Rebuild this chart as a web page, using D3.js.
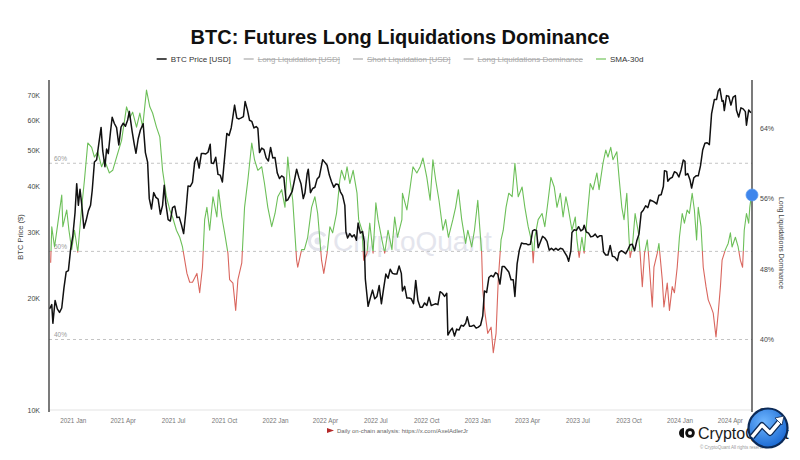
<!DOCTYPE html>
<html><head><meta charset="utf-8">
<script src="https://cdn.jsdelivr.net/npm/d3@7"></script>
<style>body{margin:0;background:#fff} svg{display:block;font-family:"Liberation Sans",Arial,Helvetica,sans-serif}</style>
</head><body><svg id="c" width="800" height="460"></svg>
<script>
const titleText = "BTC: Futures Long Liquidations Dominance";
const legendItems = [
  {name:"BTC Price [USD]", color:"#111", on:true},
  {name:"Long Liquidation [USD]", color:"#bbb", on:false},
  {name:"Short Liquidation [USD]", color:"#bbb", on:false},
  {name:"Long Liquidations Dominance", color:"#bbb", on:false},
  {name:"SMA-30d", color:"#8fd07d", on:true}
];
const priceTicks = [10000,20000,30000,40000,50000,60000,70000];
const domTicks = [32,40,48,56,64];
const refLevels = [40,50,60];
const xStart = "2020-11-19", xEnd = "2024-05-11";

const priceSeries = [
["2020-11-20",18700],["2020-11-24",19200],["2020-11-26",17100],["2020-11-30",19700],["2020-12-04",18700],["2020-12-08",18300],["2020-12-12",18800],["2020-12-16",21300],["2020-12-20",23500],["2020-12-24",23700],["2020-12-28",27000],
["2021-01-01",29400],["2021-01-05",33900],["2021-01-08",40600],["2021-01-11",35500],["2021-01-14",39200],["2021-01-17",35800],["2021-01-21",30800],["2021-01-25",32300],["2021-01-29",34300],["2021-02-02",35500],["2021-02-05",38900],["2021-02-09",46400],["2021-02-13",47100],["2021-02-17",52100],["2021-02-21",57500],["2021-02-24",49700],["2021-02-28",45100],["2021-03-03",50300],["2021-03-06",48900],["2021-03-10",55900],["2021-03-13",61200],["2021-03-17",58900],["2021-03-21",57400],["2021-03-25",51600],["2021-03-29",57600],["2021-04-02",59000],["2021-04-06",57900],["2021-04-10",60200],["2021-04-13",63500],["2021-04-18",56200],["2021-04-22",51700],["2021-04-25",49000],["2021-04-29",53600],["2021-05-03",56600],["2021-05-08",58800],["2021-05-12",49200],["2021-05-16",46400],["2021-05-19",37000],["2021-05-23",34700],["2021-05-27",38400],["2021-05-31",37300],["2021-06-04",36900],["2021-06-08",33600],["2021-06-12",35500],["2021-06-15",40200],["2021-06-18",35800],["2021-06-22",32500],["2021-06-26",32200],["2021-06-30",35000],["2021-07-04",35300],["2021-07-08",32900],["2021-07-12",33000],["2021-07-16",31500],["2021-07-20",29800],["2021-07-24",34000],["2021-07-28",40000],["2021-08-01",39900],["2021-08-05",40900],["2021-08-09",46400],["2021-08-13",47800],["2021-08-17",44700],["2021-08-21",48900],["2021-08-25",48900],["2021-08-29",48800],["2021-09-02",49300],["2021-09-06",51800],["2021-09-08",46100],["2021-09-12",46000],["2021-09-16",47800],["2021-09-20",43000],["2021-09-24",42800],["2021-09-28",41000],["2021-10-02",47700],["2021-10-06",55400],["2021-10-10",54700],["2021-10-14",57400],["2021-10-17",61500],["2021-10-20",66000],["2021-10-24",60900],["2021-10-28",60600],["2021-11-01",61000],["2021-11-05",61500],["2021-11-08",67500],["2021-11-12",64200],["2021-11-16",60100],["2021-11-20",59700],["2021-11-24",57300],["2021-11-28",57800],["2021-12-01",57200],["2021-12-04",49200],["2021-12-08",50600],["2021-12-12",50100],["2021-12-16",47600],["2021-12-20",46700],["2021-12-24",50800],["2021-12-28",47600],
["2022-01-01",47700],["2022-01-05",43400],["2022-01-09",41900],["2022-01-13",42600],["2022-01-17",42200],["2022-01-21",36500],["2022-01-24",36700],["2022-01-28",37700],["2022-02-01",38700],["2022-02-05",41400],["2022-02-09",44400],["2022-02-13",42200],["2022-02-17",40500],["2022-02-21",37000],["2022-02-24",38300],["2022-02-28",43200],["2022-03-02",44400],["2022-03-06",38400],["2022-03-10",39400],["2022-03-14",39700],["2022-03-18",41800],["2022-03-22",42400],["2022-03-28",47100],["2022-04-01",46300],["2022-04-05",45500],["2022-04-09",42800],["2022-04-13",41100],["2022-04-17",39700],["2022-04-21",40500],["2022-04-25",40400],["2022-04-29",38600],["2022-05-03",37700],["2022-05-07",35500],["2022-05-09",30100],["2022-05-12",29000],["2022-05-16",29800],["2022-05-20",29200],["2022-05-24",29600],["2022-05-28",28600],["2022-05-31",31800],["2022-06-04",29900],["2022-06-08",30200],["2022-06-11",28400],["2022-06-13",22500],["2022-06-18",19000],["2022-06-22",20000],["2022-06-26",21000],["2022-06-30",19900],["2022-07-04",20200],["2022-07-08",21600],["2022-07-12",19300],["2022-07-16",21200],["2022-07-20",23200],["2022-07-24",22600],["2022-07-28",23900],["2022-08-01",23300],["2022-08-05",23200],["2022-08-09",23200],["2022-08-13",24400],["2022-08-17",23300],["2022-08-19",20900],["2022-08-23",21500],["2022-08-27",20000],["2022-08-31",20000],["2022-09-04",19900],["2022-09-08",19300],["2022-09-12",22300],["2022-09-16",19700],["2022-09-20",18900],["2022-09-24",18900],["2022-09-28",19400],["2022-10-02",19100],["2022-10-06",20100],["2022-10-10",19100],["2022-10-14",19200],["2022-10-18",19300],["2022-10-22",19200],["2022-10-26",20800],["2022-10-30",20600],["2022-11-03",20200],["2022-11-07",20600],["2022-11-09",15900],["2022-11-13",16300],["2022-11-17",16600],["2022-11-21",15800],["2022-11-25",16500],["2022-11-29",16400],["2022-12-03",16900],["2022-12-07",16800],["2022-12-11",17100],["2022-12-14",17800],["2022-12-18",16800],["2022-12-22",16800],["2022-12-26",16900],["2022-12-30",16600],
["2023-01-03",16700],["2023-01-07",16900],["2023-01-11",17900],["2023-01-14",20900],["2023-01-18",20700],["2023-01-22",22700],["2023-01-26",23000],["2023-01-30",22800],["2023-02-03",23400],["2023-02-07",23200],["2023-02-11",21800],["2023-02-15",24300],["2023-02-19",24300],["2023-02-23",23900],["2023-02-27",23500],["2023-03-03",22400],["2023-03-07",22400],["2023-03-10",20200],["2023-03-14",24700],["2023-03-18",26900],["2023-03-22",28100],["2023-03-26",28000],["2023-03-30",28000],["2023-04-03",27800],["2023-04-07",27900],["2023-04-11",30300],["2023-04-14",30500],["2023-04-18",30400],["2023-04-21",27300],["2023-04-25",28300],["2023-04-29",29300],["2023-05-03",29000],["2023-05-07",28400],["2023-05-11",26900],["2023-05-15",27200],["2023-05-19",26900],["2023-05-23",27200],["2023-05-27",26900],["2023-05-31",27200],["2023-06-04",27100],["2023-06-08",26500],["2023-06-12",25900],["2023-06-15",25100],["2023-06-19",26800],["2023-06-21",30000],["2023-06-25",30500],["2023-06-29",30400],["2023-07-03",31100],["2023-07-07",30300],["2023-07-11",30600],["2023-07-13",31400],["2023-07-17",30100],["2023-07-21",29900],["2023-07-25",29200],["2023-07-29",29300],["2023-08-02",29700],["2023-08-06",29100],["2023-08-10",29400],["2023-08-14",29400],["2023-08-17",26600],["2023-08-21",26100],["2023-08-25",26100],["2023-08-29",27700],["2023-09-02",25900],["2023-09-06",25800],["2023-09-11",25200],["2023-09-14",26500],["2023-09-18",26800],["2023-09-22",26600],["2023-09-26",26300],["2023-09-30",27000],["2023-10-04",27800],["2023-10-08",27900],["2023-10-12",26800],["2023-10-16",28500],["2023-10-20",29700],["2023-10-24",33900],["2023-10-28",34500],["2023-11-01",35400],["2023-11-05",35000],["2023-11-09",36700],["2023-11-13",36500],["2023-11-17",36200],["2023-11-21",35800],["2023-11-25",37800],["2023-11-29",37900],["2023-12-03",39900],["2023-12-05",44000],["2023-12-09",43800],["2023-12-11",41200],["2023-12-15",41900],["2023-12-19",42200],["2023-12-23",43700],["2023-12-27",43400],["2023-12-31",42300],
["2024-01-04",44200],["2024-01-08",47000],["2024-01-11",46600],["2024-01-12",42800],["2024-01-16",43200],["2024-01-20",41600],["2024-01-23",39500],["2024-01-27",42100],["2024-01-31",42600],["2024-02-04",42600],["2024-02-08",45300],["2024-02-12",50000],["2024-02-16",52100],["2024-02-20",52300],["2024-02-24",51700],["2024-02-28",62500],["2024-03-04",68300],["2024-03-08",68300],["2024-03-11",72100],["2024-03-14",73100],["2024-03-18",67600],["2024-03-20",67900],["2024-03-22",63800],["2024-03-26",70000],["2024-03-30",69700],["2024-04-03",66000],["2024-04-07",69400],["2024-04-11",70000],["2024-04-13",63900],["2024-04-17",61300],["2024-04-21",64900],["2024-04-25",64500],["2024-04-29",63400],["2024-05-01",58300],["2024-05-05",64000],["2024-05-09",63000]
];

const smaSeries = [
["2020-11-22",48.7],["2020-11-24",52.8],["2020-11-29",50.5],["2020-12-05",53.2],["2020-12-12",56.4],["2020-12-14",52.8],["2020-12-21",54.7],["2020-12-25",52.4],["2020-12-30",50.2],["2021-01-04",52.4],["2021-01-10",49.9],["2021-01-17",55.0],["2021-01-22",58.1],["2021-01-28",62.3],["2021-02-04",61.8],["2021-02-09",60.7],["2021-02-15",61.3],["2021-02-22",59.6],["2021-02-27",60.4],["2021-03-08",58.9],["2021-03-14",59.2],["2021-03-21",60.7],["2021-03-30",62.6],["2021-04-08",66.4],["2021-04-14",65.2],["2021-04-19",65.8],["2021-04-26",64.1],["2021-05-02",65.7],["2021-05-07",64.1],["2021-05-14",68.3],["2021-05-20",66.4],["2021-05-25",65.7],["2021-06-01",64.1],["2021-06-07",63.0],["2021-06-12",59.2],["2021-06-19",56.2],["2021-06-25",54.7],["2021-06-30",53.9],["2021-07-07",52.4],["2021-07-13",51.6],["2021-07-18",50.5],["2021-07-26",47.5],["2021-07-31",46.5],["2021-08-05",46.5],["2021-08-13",47.5],["2021-08-18",45.3],["2021-08-23",48.2],["2021-08-27",53.6],["2021-08-31",55.0],["2021-09-05",52.4],["2021-09-11",56.2],["2021-09-18",53.9],["2021-09-21",57.0],["2021-09-27",53.9],["2021-10-02",52.1],["2021-10-08",49.8],["2021-10-11",46.8],["2021-10-17",46.4],["2021-10-22",43.3],["2021-10-26",46.8],["2021-11-02",48.7],["2021-11-07",55.0],["2021-11-13",58.1],["2021-11-20",62.3],["2021-11-25",60.4],["2021-12-01",59.2],["2021-12-08",59.6],["2021-12-13",57.7],["2021-12-19",55.0],["2021-12-26",52.8],
["2022-01-01",54.3],["2022-01-06",56.2],["2022-01-13",57.0],["2022-01-19",55.0],["2022-01-24",60.7],["2022-01-28",58.1],["2022-02-02",55.8],["2022-02-09",49.0],["2022-02-11",48.2],["2022-02-18",50.2],["2022-02-23",50.2],["2022-03-01",51.6],["2022-03-08",55.0],["2022-03-14",56.2],["2022-03-19",54.3],["2022-03-26",49.0],["2022-03-30",47.5],["2022-04-05",49.8],["2022-04-10",52.8],["2022-04-15",52.1],["2022-04-22",54.3],["2022-04-28",58.1],["2022-05-01",59.2],["2022-05-07",58.1],["2022-05-11",59.6],["2022-05-16",57.7],["2022-05-22",59.2],["2022-05-29",56.6],["2022-06-01",53.6],["2022-06-07",52.4],["2022-06-10",49.0],["2022-06-16",49.8],["2022-06-21",53.2],["2022-06-27",49.8],["2022-07-02",55.5],["2022-07-06",53.6],["2022-07-13",51.3],["2022-07-18",49.8],["2022-07-24",52.4],["2022-07-31",50.2],["2022-08-05",53.9],["2022-08-10",51.6],["2022-08-18",53.6],["2022-08-19",56.6],["2022-08-27",54.7],["2022-09-02",57.3],["2022-09-07",59.6],["2022-09-14",58.9],["2022-09-20",59.6],["2022-09-25",60.6],["2022-10-02",58.4],["2022-10-08",55.8],["2022-10-13",60.4],["2022-10-18",58.1],["2022-10-24",55.8],["2022-10-31",52.4],["2022-11-05",53.6],["2022-11-10",51.6],["2022-11-18",53.6],["2022-11-23",55.0],["2022-11-28",57.0],["2022-12-04",53.6],["2022-12-11",50.9],["2022-12-15",52.4],["2022-12-22",50.5],["2022-12-27",52.4],
["2023-01-02",55.8],["2023-01-05",53.2],["2023-01-09",49.8],["2023-01-11",45.6],["2023-01-15",43.0],["2023-01-20",40.7],["2023-01-26",41.4],["2023-01-30",38.5],["2023-02-04",40.7],["2023-02-08",46.8],["2023-02-13",51.3],["2023-02-17",52.4],["2023-02-22",55.0],["2023-02-27",56.6],["2023-03-05",56.2],["2023-03-10",60.0],["2023-03-16",56.2],["2023-03-23",57.3],["2023-03-28",55.0],["2023-04-03",52.8],["2023-04-10",50.9],["2023-04-12",48.7],["2023-04-15",51.6],["2023-04-21",53.6],["2023-04-28",54.3],["2023-05-03",52.8],["2023-05-09",55.8],["2023-05-14",58.4],["2023-05-20",57.3],["2023-05-25",55.0],["2023-05-31",56.6],["2023-06-05",53.9],["2023-06-10",56.2],["2023-06-14",55.0],["2023-06-21",52.4],["2023-06-27",53.9],["2023-06-30",51.3],["2023-07-04",49.3],["2023-07-09",51.6],["2023-07-13",49.8],["2023-07-18",53.6],["2023-07-24",57.7],["2023-07-29",57.0],["2023-08-05",58.9],["2023-08-09",57.0],["2023-08-16",60.0],["2023-08-21",61.5],["2023-08-25",60.7],["2023-08-30",61.8],["2023-09-03",60.4],["2023-09-10",61.3],["2023-09-14",58.4],["2023-09-19",55.0],["2023-09-23",53.6],["2023-09-28",56.6],["2023-10-02",51.5],["2023-10-04",49.3],["2023-10-08",50.5],["2023-10-13",54.3],["2023-10-19",52.1],["2023-10-22",49.8],["2023-10-26",46.0],["2023-10-30",49.8],["2023-11-04",51.3],["2023-11-07",49.0],["2023-11-13",43.7],["2023-11-16",48.2],["2023-11-22",49.8],["2023-11-25",50.9],["2023-12-01",46.8],["2023-12-04",43.7],["2023-12-10",46.4],["2023-12-14",43.3],["2023-12-19",46.0],["2023-12-23",45.3],["2023-12-28",48.2],
["2024-01-01",51.6],["2024-01-06",54.3],["2024-01-10",53.2],["2024-01-15",54.7],["2024-01-19",54.3],["2024-01-24",56.6],["2024-01-28",54.7],["2024-02-01",51.3],["2024-02-04",55.0],["2024-02-09",52.8],["2024-02-13",48.2],["2024-02-18",46.0],["2024-02-22",44.5],["2024-02-27",43.7],["2024-03-02",43.0],["2024-03-07",40.3],["2024-03-11",43.0],["2024-03-15",46.0],["2024-03-18",49.0],["2024-03-24",50.2],["2024-03-29",50.9],["2024-04-02",52.1],["2024-04-05",50.5],["2024-04-11",51.6],["2024-04-16",50.5],["2024-04-20",49.0],["2024-04-24",48.2],["2024-04-27",52.4],["2024-05-01",54.3],["2024-05-05",53.2],["2024-05-07",55.0],["2024-05-10",56.4]
];

const parse = d3.utcParse("%Y-%m-%d");
const P = {left:49, right:752, top:82, bottom:410};
const svg = d3.select("#c");
const FONT = '"Liberation Sans",Arial,Helvetica,sans-serif';

const x = d3.scaleUtc().domain([parse(xStart), parse(xEnd)]).range([P.left, P.right]);
const yP = d3.scaleLog().domain([10000, 100000]).range([410, 38]);
const yD = d3.scaleLinear().domain([32, 64]).range([410, 128]);

const price = priceSeries.map(d => ({date: parse(d[0]), v: d[1]}));
const sma = smaSeries.map(d => ({date: parse(d[0]), v: d[1]}));

// title
svg.append("text").attr("x", 400).attr("y", 44).attr("text-anchor", "middle")
  .attr("font-size", 20).attr("font-weight", "bold").attr("fill", "#111").text(titleText);

// legend
const lg = svg.append("g");
let cx = 0;
legendItems.forEach(it => {
  const g = lg.append("g").attr("transform", `translate(${cx},0)`);
  g.append("line").attr("x1", 0).attr("x2", 10).attr("y1", 59).attr("y2", 59)
    .attr("stroke", it.color).attr("stroke-width", 1.5);
  const t = g.append("text").attr("x", 14).attr("y", 59).attr("dy", "0.35em")
    .attr("font-size", 8).attr("fill", it.on ? "#333" : "#aaa")
    .attr("text-decoration", it.on ? null : "line-through").text(it.name);
  cx += 14 + t.node().getComputedTextLength() + 13;
});
const lgW = cx - 13;
lg.attr("transform", `translate(${400 - lgW / 2},0)`);

// watermark
const wm = svg.append("g").attr("opacity", 1);
wm.append("path").attr("d", d3.arc()({innerRadius: 7, outerRadius: 10, startAngle: 0.6, endAngle: 2 * Math.PI - 0.6}))
  .attr("transform", "translate(318,241) rotate(90)").attr("fill", "#e3e4ec");
wm.append("circle").attr("cx", 318).attr("cy", 241).attr("r", 3.5).attr("fill", "#e3e4ec");
wm.append("text").attr("x", 333).attr("y", 251).attr("font-size", 28).attr("fill", "#e4e5ed").text("CryptoQuant");

// baseline
svg.append("line").attr("x1", P.left).attr("x2", P.right).attr("y1", 410).attr("y2", 410)
  .attr("stroke", "#e3e3e3").attr("stroke-width", 1);

// reference dashed levels
refLevels.forEach(l => {
  svg.append("line").attr("x1", P.left).attr("x2", P.right).attr("y1", yD(l)).attr("y2", yD(l))
    .attr("stroke", "#c4c4c4").attr("stroke-width", 1).attr("stroke-dasharray", "3,3");
  svg.append("text").attr("x", 54).attr("y", yD(l) - 2.5).attr("font-size", 6.5)
    .attr("fill", "#9a9a9a").text(l + "%");
});

// clip
svg.append("clipPath").attr("id", "clip").append("rect")
  .attr("x", P.left).attr("y", P.top - 4).attr("width", P.right - P.left).attr("height", P.bottom - P.top + 4);

// gradient for SMA
const off = (yD(50) - P.top) / (P.bottom - P.top);
const grad = svg.append("defs").append("linearGradient").attr("id", "smaGrad")
  .attr("gradientUnits", "userSpaceOnUse").attr("x1", 0).attr("x2", 0).attr("y1", P.top).attr("y2", P.bottom);
grad.append("stop").attr("offset", 0).attr("stop-color", "#6cbf58");
grad.append("stop").attr("offset", off).attr("stop-color", "#6cbf58");
grad.append("stop").attr("offset", off).attr("stop-color", "#d9665e");
grad.append("stop").attr("offset", 1).attr("stop-color", "#d9665e");

const plot = svg.append("g").attr("clip-path", "url(#clip)");
plot.append("path").datum(sma)
  .attr("d", d3.line().x(d => x(d.date)).y(d => yD(d.v)))
  .attr("fill", "none").attr("stroke", "url(#smaGrad)").attr("stroke-width", 1.1).attr("stroke-linejoin", "round");
plot.append("path").datum(price)
  .attr("d", d3.line().x(d => x(d.date)).y(d => yP(d.v)))
  .attr("fill", "none").attr("stroke", "#111").attr("stroke-width", 1.5).attr("stroke-linejoin", "round");

// axes lines
svg.append("line").attr("x1", P.left).attr("x2", P.left).attr("y1", P.top - 2).attr("y2", 412)
  .attr("stroke", "#333").attr("stroke-width", 1.3);
svg.append("line").attr("x1", P.right).attr("x2", P.right).attr("y1", P.top - 2).attr("y2", 412)
  .attr("stroke", "#333").attr("stroke-width", 1.3);

// left axis
const la = svg.append("g").attr("transform", `translate(${P.left},0)`)
  .call(d3.axisLeft(yP).tickValues(priceTicks).tickFormat(d => (d / 1000) + "K").tickSize(0).tickPadding(9));
la.select(".domain").remove();
la.selectAll("text").attr("font-size", 7).attr("fill", "#444").attr("font-family", FONT);

// right axis
const ra = svg.append("g").attr("transform", `translate(${P.right},0)`)
  .call(d3.axisRight(yD).tickValues(domTicks).tickFormat(d => d + "%").tickSize(0).tickPadding(8));
ra.select(".domain").remove();
ra.selectAll("text").attr("font-size", 7).attr("fill", "#444").attr("font-family", FONT);

// bottom axis
const ba = svg.append("g").attr("transform", `translate(0,410)`)
  .call(d3.axisBottom(x).ticks(d3.utcMonth.every(3)).tickFormat(d3.utcFormat("%Y %b")).tickSize(0).tickPadding(9));
ba.select(".domain").remove();
ba.selectAll("text").attr("font-size", 6.3).attr("fill", "#777").attr("font-family", FONT);

// axis titles
svg.append("text").attr("transform", "translate(23,237) rotate(-90)").attr("text-anchor", "middle")
  .attr("font-size", 7.5).attr("fill", "#444").text("BTC Price ($)");
svg.append("text").attr("transform", "translate(779,243) rotate(90)").attr("text-anchor", "middle")
  .attr("font-size", 7).attr("fill", "#444").text("Long Liquidations Dominance");

// last value dot
const last = sma[sma.length - 1];
svg.append("circle").attr("cx", P.right).attr("cy", yD(last.v)).attr("r", 6)
  .attr("fill", "#3f86ec").attr("stroke", "#5b9af0").attr("stroke-width", 0.8);

// footer note
svg.append("path").attr("d", "M327,428 L334,430.5 L327,433 Z").attr("fill", "#b42a2a");
svg.append("text").attr("x", 337).attr("y", 433).attr("font-size", 6).attr("fill", "#666")
  .text("Daily on-chain analysis: https://x.com/AxelAdlerJr");

// brand
const br = svg.append("g");
br.append("path").attr("d", "M684,428 A5,5 0 0 0 684,438 Z").attr("fill", "#111");
br.append("circle").attr("cx", 690).attr("cy", 433).attr("r", 4.8).attr("fill", "#111");
br.append("circle").attr("cx", 690).attr("cy", 433).attr("r", 2).attr("fill", "#fff");
br.append("text").attr("x", 698).attr("y", 439).attr("font-size", 16).attr("fill", "#1a1a1a").text("CryptoQuant");
br.append("text").attr("x", 700).attr("y", 449).attr("font-size", 4.5).attr("fill", "#999")
  .text("© CryptoQuant All rights reserved.");
const rg = svg.append("defs").append("radialGradient").attr("id", "bg").attr("cx", "40%").attr("cy", "35%").attr("r", "70%");
rg.append("stop").attr("offset", 0).attr("stop-color", "#6fb6ff");
rg.append("stop").attr("offset", 1).attr("stop-color", "#1665d0");
br.append("circle").attr("cx", 768).attr("cy", 428).attr("r", 19.5).attr("fill", "url(#bg)")
  .attr("stroke", "#0c2a57").attr("stroke-width", 2.2);
br.append("path").attr("d", "M752,437 L762,425 L770,433 L781,420").attr("fill", "none")
  .attr("stroke", "#0c2a57").attr("stroke-width", 6).attr("stroke-linejoin", "round");
br.append("path").attr("d", "M752,437 L762,425 L770,433 L781,420").attr("fill", "none")
  .attr("stroke", "#fff").attr("stroke-width", 3.5).attr("stroke-linejoin", "round");
br.append("path").attr("d", "M775,418 L784,416 L782,425 Z").attr("fill", "#fff").attr("stroke", "#0c2a57").attr("stroke-width", 0.8);
</script></body></html>
